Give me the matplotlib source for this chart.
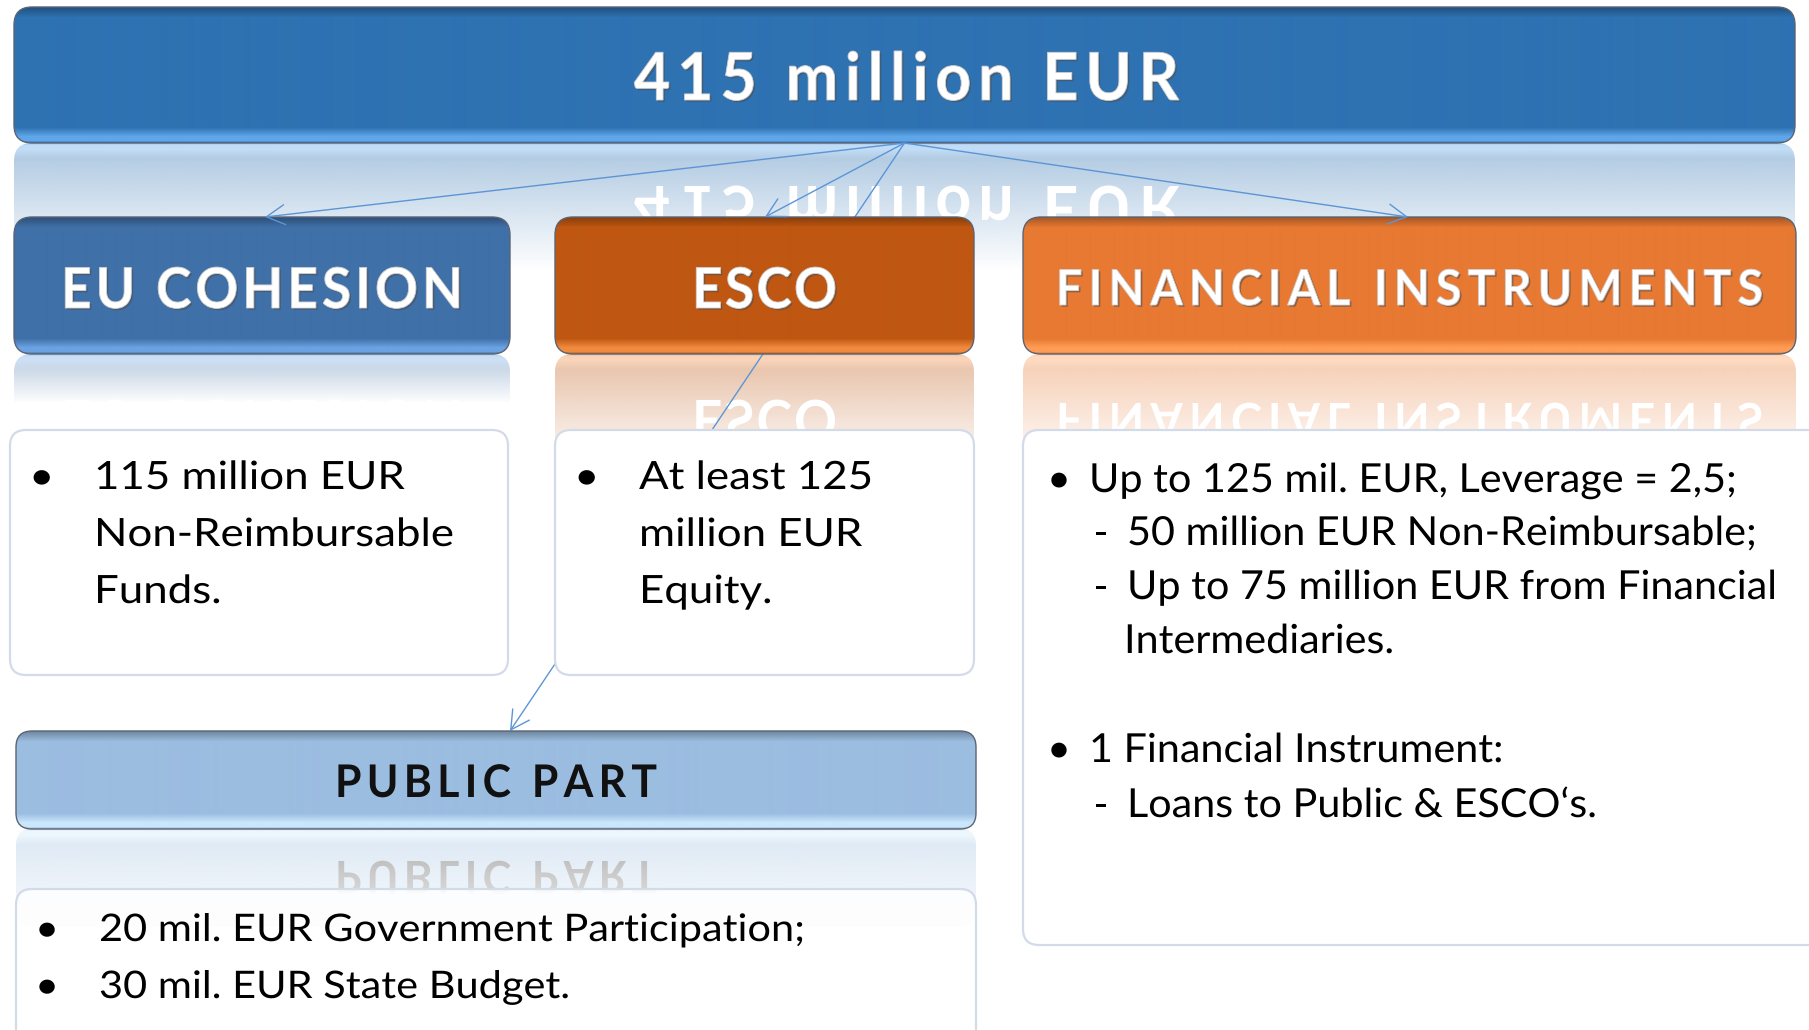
import numpy as np
import matplotlib
matplotlib.use("Agg")
import matplotlib.pyplot as plt
import matplotlib.patheffects as pe
from matplotlib.colors import to_rgb
from matplotlib.font_manager import FontProperties, findfont, get_font
from matplotlib.patches import FancyBboxPatch, PathPatch
from matplotlib.path import Path
from matplotlib.textpath import TextPath

FONT = "Lato"
W, H = 1809, 1030

# texts of the diagram
TITLE = "415 million EUR"
BRANCH_NAMES = ["EU COHESION", "ESCO", "FINANCIAL INSTRUMENTS"]
BRANCH_COLORS = ["#4070a8", "#bf5712", "#e77932"]
BRANCH_LIGHT = ["#6aa2e2", "#f08a3e", "#ff9c55"]
EU_LINES = ["115 million EUR", "Non-Reimbursable", "Funds."]
ESCO_LINES = ["At least 125", "million EUR", "Equity."]
FIN_MARKERS = ["\u2022", "-", "-", "", "\u2022", "-"]
FIN_LINES = ["Up to 125 mil. EUR, Leverage = 2,5;",
             "50 million EUR Non-Reimbursable;",
             "Up to 75 million EUR from Financial",
             "Intermediaries.",
             "1 Financial Instrument:",
             "Loans to Public & ESCO\u2018s."]
PUBLIC_TITLE = "PUBLIC PART"
PUBLIC_LINES = ["20 mil. EUR Government Participation;", "30 mil. EUR State Budget."]

# layout (pixels, y downwards)
TOP_BOX = (14, 7, 1795, 143)
BRANCH_BOXES = [(14, 217, 510, 354), (555, 217, 974, 354), (1023, 217, 1796, 354)]
TEXT_BOXES = [(10, 430, 508, 675), (555, 430, 974, 675), (1023, 430, 1830, 945)]
PUBLIC_BOX = (16, 731, 976, 829)
PUBLIC_TEXT_BOX = (16, 889, 976, 1060)
ARROW_COLOR = "#5b95d6"
HEAD_XS = 0.95


def advance(font, ch, size):
    # TextPath shares the cached font and resets its size, so set it every time
    font.set_size(100, 72)
    return font.load_char(ord(ch)).linearHoriAdvance / 65536 * size / 100


def glyph_run(s, size, weight, track=0.0, xscale=1.0):
    fp = FontProperties(family=FONT, weight=weight)
    font = get_font(findfont(fp))
    verts, codes, pen = [], [], 0.0
    for ch in s:
        if not ch.isspace():
            p = TextPath((0, 0), ch, size=size, prop=fp)
            if len(p.vertices):
                verts.append(p.vertices * [xscale, 1] + [pen, 0])
                codes.append(p.codes)
        pen += advance(font, ch, size) * xscale + track
    return verts, codes, pen - track


def text_path(s, x, base, size, weight="normal", xscale=1.0, track=0.0, ha="left", mirror=None):
    verts, codes, width = glyph_run(s, size, weight, track, xscale)
    if ha == "center":
        x = x - width / 2
    v = np.concatenate(verts).copy()
    v[:, 0] += x
    if mirror is None:
        v[:, 1] = base - v[:, 1]
    else:
        v[:, 1] = 2 * mirror - base + v[:, 1]
    return Path(v, np.concatenate(codes))


def fit_track(s, size, weight, xscale, target):
    w = glyph_run(s, size, weight, 0, xscale)[2]
    return (target - w) / (len(s) - 1)


def fit_scale(s, size, target):
    return target / glyph_run(s, size, "normal")[2]


def gloss_img(h, base, light):
    base = np.array(to_rgb(base))
    light = np.array(to_rgb(light))
    dark = base * 0.72
    pos = [0, 10, h - 16, h - 7, h - 3, h]
    cols = [dark, base, base, light, light, base * 0.9]
    yy = np.arange(h)
    img = np.stack([np.interp(yy, pos, [c[i] for c in cols]) for i in range(3)], axis=1)
    return img[:, None, :]


def gloss_box(ax, box, base, light, r=16, z=4):
    x0, y0, x1, y1 = box
    img = gloss_img(int(y1 - y0), base, light)
    patch = FancyBboxPatch((x0, y0), x1 - x0, y1 - y0, boxstyle=f"round,pad=0,rounding_size={r}",
                           fc="none", ec="#5a6474", lw=1, zorder=z + 0.1)
    ax.add_patch(patch)
    im = ax.imshow(img, extent=(x0, x1, y1, y0), origin="upper", aspect="auto",
                   zorder=z, interpolation="bilinear")
    im.set_clip_path(patch)
    return img


def reflection(ax, box, img, r, a0, fade):
    x0, y0, x1, y1 = box
    h = y1 - y0
    patch = FancyBboxPatch((x0, y1), x1 - x0, h, boxstyle=f"round,pad=0,rounding_size={r}",
                           fc="none", ec="none", zorder=1)
    ax.add_patch(patch)
    im = ax.imshow(img[::-1], extent=(x0, x1, y1 + h, y1), origin="upper", aspect="auto",
                   zorder=1, interpolation="bilinear")
    im.set_clip_path(patch)
    t = np.arange(int(h) + 2)
    alpha = np.clip(1 - a0 * (1 - t / fade), 0, 1)
    ov = np.ones((len(t), 1, 4))
    ov[:, 0, 3] = alpha
    ax.imshow(ov, extent=(x0 - 3, x1 + 3, y1 + h + 2, y1), origin="upper", aspect="auto",
              zorder=2, interpolation="bilinear")


def header(ax, s, cx, base, size, target, axis_y, color="white", emboss=True):
    tr = fit_track(s, size, "bold", HEAD_XS, target)
    p = text_path(s, cx, base, size, "bold", HEAD_XS, tr, "center")
    if emboss:
        eff = [pe.SimplePatchShadow(offset=(1.3, -1.3), shadow_rgbFace="#4d4d4d", alpha=0.55), pe.Normal()]
        ax.add_patch(PathPatch(p, fc=color, ec="#d0d0d0", lw=0.6, path_effects=eff, zorder=6))
    else:
        ax.add_patch(PathPatch(p, fc=color, ec="none", zorder=6))
    m = text_path(s, cx, base, size, "bold", HEAD_XS, tr, "center", mirror=axis_y)
    ax.add_patch(PathPatch(m, fc=color, ec="none", zorder=1.5))


def body(ax, s, x, base, size, xs, color="black"):
    ax.add_patch(PathPatch(text_path(s, x, base, size, "normal", xs), fc=color, ec="none", zorder=6))


def text_box(ax, box, r=16, alpha=1.0):
    x0, y0, x1, y1 = box
    ax.add_patch(FancyBboxPatch((x0, y0), x1 - x0, y1 - y0, boxstyle=f"round,pad=0,rounding_size={r}",
                                fc=(1, 1, 1, alpha), ec="#d3dbe8", lw=1.6, zorder=4))


fig = plt.figure(figsize=(W / 100, H / 100), dpi=100)
ax = fig.add_axes([0, 0, 1, 1])
fig.patch.set_facecolor("white")

# top box
img = gloss_box(ax, TOP_BOX, "#2e72b2", "#5fa6ea", r=18)
reflection(ax, TOP_BOX, img, 18, 0.40, 125)
header(ax, TITLE, (TOP_BOX[0] + TOP_BOX[2]) / 2 + 2, 100, 66, 545, TOP_BOX[3])

# branch boxes
branch_base = [308, 308, 305]
branch_size = [56, 56, 49]
branch_width = [402, 145, 707]
branch_fade = [48, 115, 115]
for name, col, lt, box, b, sz, tw, fd in zip(BRANCH_NAMES, BRANCH_COLORS, BRANCH_LIGHT, BRANCH_BOXES,
                                            branch_base, branch_size, branch_width, branch_fade):
    img = gloss_box(ax, box, col, lt, r=18)
    reflection(ax, box, img, 18, 0.38, fd)
    header(ax, name, (box[0] + box[2]) / 2, b, sz, tw, box[3])

# public part
img = gloss_box(ax, PUBLIC_BOX, "#9bbde0", "#c9e6fb", r=16)
reflection(ax, PUBLIC_BOX, img, 16, 0.35, 115)
header(ax, PUBLIC_TITLE, (PUBLIC_BOX[0] + PUBLIC_BOX[2]) / 2, 797, 45, 322, PUBLIC_BOX[3],
       color="#111111", emboss=False)

# text boxes
for box in TEXT_BOXES:
    text_box(ax, box)
text_box(ax, PUBLIC_TEXT_BOX, alpha=0.85)

# connectors
src = ((TOP_BOX[0] + TOP_BOX[2]) / 2, TOP_BOX[3])
aprops = dict(arrowstyle="->,head_length=0.55,head_width=0.3", color=ARROW_COLOR, lw=1.0,
              shrinkA=0, shrinkB=0, mutation_scale=24)
for tx in [265, 765, 1408]:
    ax.annotate("", xy=(tx, 217), xytext=src, arrowprops=aprops, zorder=7)
ax.annotate("", xy=(510, 731), xytext=src, arrowprops=aprops, zorder=3)

# body texts
eu_size = 39
eu_xs = fit_scale(EU_LINES[1], eu_size, 360)
for i, (a, b) in enumerate(zip(EU_LINES, ESCO_LINES)):
    y = 489 + 57 * i
    if i == 0:
        body(ax, "\u2022", 29, y, eu_size, eu_xs)
        body(ax, "\u2022", 574, y, eu_size, eu_xs)
    body(ax, a, 94, y, eu_size, eu_xs)
    body(ax, b, 639, y, eu_size, eu_xs)

fin_size = 40
fin_xs = fit_scale(FIN_LINES[2], fin_size, 650)
fin_base = [492, 545, 599, 653, 762, 817]
fin_text_x = [1089, 1127, 1127, 1124, 1089, 1127]
for mk, s, y, x in zip(FIN_MARKERS, FIN_LINES, fin_base, fin_text_x):
    if mk:
        body(ax, mk, 1047 if mk == "\u2022" else 1093, y, fin_size, fin_xs)
    body(ax, s, x, y, fin_size, fin_xs)

pub_size = 38
pub_xs = fit_scale(PUBLIC_LINES[0], pub_size, 706)
for i, s in enumerate(PUBLIC_LINES):
    y = 941 + 57 * i
    body(ax, "\u2022", 35, y, pub_size, pub_xs)
    body(ax, s, 99, y, pub_size, pub_xs)

ax.set_xlim(0, W)
ax.set_ylim(H, 0)
ax.axis("off")
fig.savefig("out.png", dpi=100, facecolor="white")
